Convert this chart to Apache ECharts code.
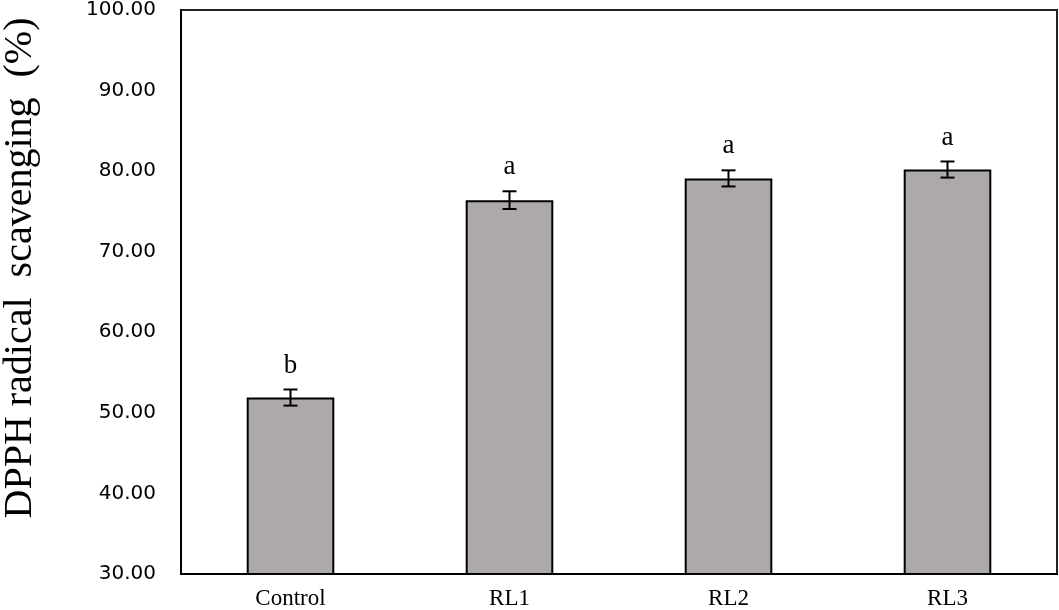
<!DOCTYPE html>
<html>
<head>
<meta charset="utf-8">
<script src="https://cdn.jsdelivr.net/npm/echarts@6/dist/echarts.min.js"></script>
<style>html,body{margin:0;padding:0;background:#fff;}#c{width:1059px;height:610px;}</style>
</head>
<body>
<div id="c"></div>
<script>
var categories = ['Control', 'RL1', 'RL2', 'RL3'];
var values = [51.9, 76.4, 79.1, 80.2];
var errors = [1.0, 1.1, 1.0, 1.0];
var letters = ['b', 'a', 'a', 'a'];
var yTicks = [30, 40, 50, 60, 70, 80, 90, 100];

var chart = echarts.init(document.getElementById('c'));
var errData = values.map(function (v, i) { return [i, v, errors[i], letters[i]]; });

chart.setOption({
  animation: false,
  backgroundColor: '#fff',
  grid: { left: 181, top: 9, right: 2, bottom: 35, show: true, borderColor: '#222', borderWidth: 2, backgroundColor: 'transparent' },
  xAxis: {
    type: 'category',
    data: categories,
    axisLine: { lineStyle: { color: '#000', width: 2 } },
    axisTick: { show: false },
    axisLabel: { fontFamily: 'Liberation Serif', fontSize: 23, color: '#000', margin: 13 }
  },
  yAxis: {
    type: 'value',
    min: yTicks[0],
    max: yTicks[yTicks.length - 1],
    interval: 10,
    axisLine: { show: true, lineStyle: { color: '#000', width: 2 } },
    axisTick: { show: false },
    splitLine: { show: false },
    axisLabel: {
      fontFamily: 'DejaVu Sans', fontSize: 20, color: '#000', margin: 25,
      formatter: function (v) { return v.toFixed(2); }
    }
  },
  graphic: [{
    type: 'text',
    x: 20, y: 268,
    rotation: Math.PI / 2,
    style: {
      text: 'DPPH radical  scavenging  (%)',
      font: '40px "Liberation Serif"',
      fill: '#000',
      textAlign: 'center',
      textVerticalAlign: 'middle'
    }
  }],
  series: [{
    type: 'bar',
    data: values,
    barWidth: '40%',
    itemStyle: { color: '#ADA9A8', borderColor: '#000', borderWidth: 2 }
  }, {
    type: 'custom',
    data: errData,
    z: 5,
    renderItem: function (params, api) {
      var x = api.value(0), v = api.value(1), e = api.value(2);
      var top = api.coord([x, v + e]);
      var bot = api.coord([x, v - e]);
      var hw = 7;
      var st = { stroke: '#000', lineWidth: 2 };
      return {
        type: 'group',
        children: [
          { type: 'line', shape: { x1: top[0], y1: top[1], x2: bot[0], y2: bot[1] }, style: st },
          { type: 'line', shape: { x1: top[0] - hw, y1: top[1], x2: top[0] + hw, y2: top[1] }, style: st },
          { type: 'line', shape: { x1: bot[0] - hw, y1: bot[1], x2: bot[0] + hw, y2: bot[1] }, style: st },
          { type: 'text', x: top[0], y: top[1] - 24,
            style: { text: letters[params.dataIndex], font: '27px "Liberation Serif"', fill: '#000', textAlign: 'center', textVerticalAlign: 'middle' } }
        ]
      };
    }
  }]
});
</script>
</body>
</html>
